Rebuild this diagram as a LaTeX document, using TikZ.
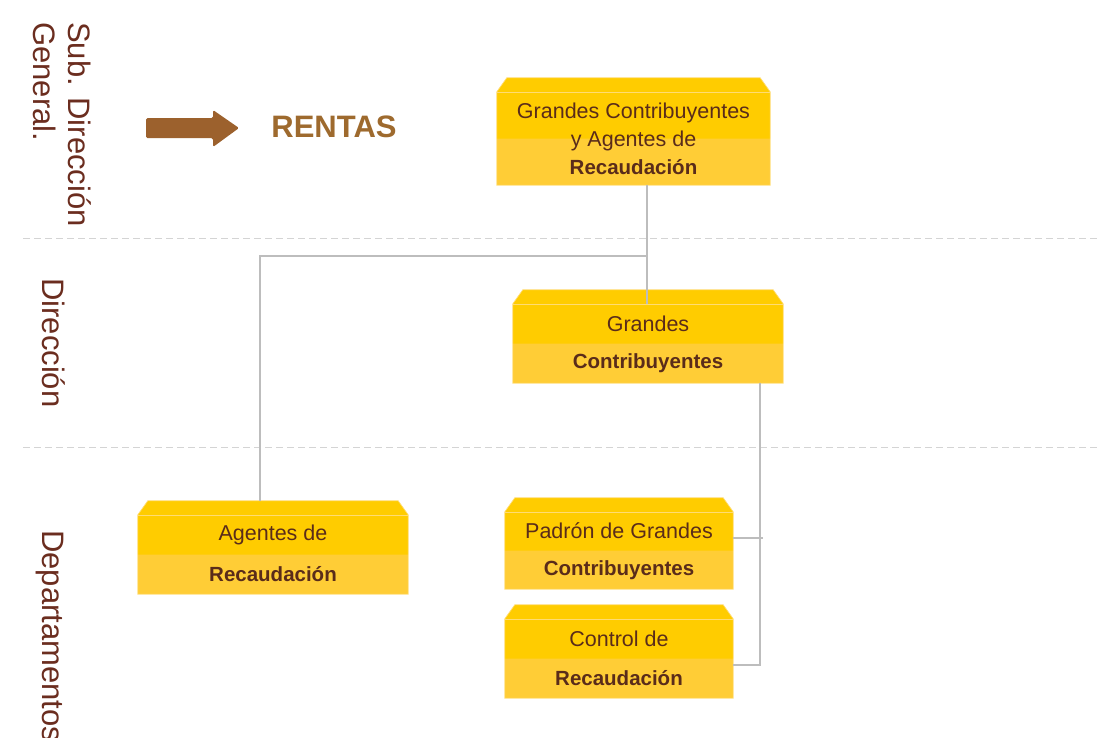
\documentclass[tikz,border=0pt]{standalone}
\usepackage{fontspec}
\setmainfont{Liberation Sans}
\usetikzlibrary{calc}
\definecolor{yelA}{HTML}{FFCC00}
\definecolor{yelB}{HTML}{FFCD36}
\definecolor{yelEdge}{HTML}{FFDC73}
\definecolor{lbl}{HTML}{6B2D1F}
\definecolor{btxt}{HTML}{5A2C1A}
\definecolor{arrowbrown}{HTML}{9C612D}
\definecolor{rentascol}{HTML}{9E6A2E}
\definecolor{conncol}{HTML}{BDBDBD}
\definecolor{dashcol}{HTML}{D4D4D4}
\newcommand\orgcap[1]{%
  \fill[yelA] (#1.west) -- (#1.north west) -- ++(10pt,14pt) -- ($(#1.north east)+(-10pt,14pt)$) -- (#1.north east) -- (#1.east) -- cycle;
  \draw[yelEdge, line width=0.7pt] (#1.south west) -- (#1.north west) -- ++(10pt,14pt) -- ($(#1.north east)+(-10pt,14pt)$) -- (#1.north east) -- (#1.south east) -- cycle;
  \draw[yelEdge, line width=0.5pt] (#1.north west) -- (#1.north east);
}
\begin{document}
\begin{tikzpicture}[x=1pt,y=-1pt,
  boxbody/.style={fill=yelB, inner sep=0pt},
  regtxt/.style={text=btxt, inner sep=0pt, font=\fontsize{21.5}{28}\selectfont, align=center},
  boldtxt/.style={text=btxt, inner sep=0pt, font=\fontsize{20.5}{28}\selectfont\bfseries},
  sidelbl/.style={text=lbl, inner sep=0pt, rotate=-90, anchor=base west, font=\fontsize{31}{36}\selectfont},
  conn/.style={draw=conncol, line width=1.5pt},
  sep/.style={draw=dashcol, line width=1pt, dash pattern=on 7pt off 4pt}]
\useasboundingbox (0,0) rectangle (1098,737);
\fill[white] (0,0) rectangle (1098,737);

% dashed separators
\coordinate (s1a) at (23,238); \coordinate (s1b) at (1098,238);
\coordinate (s2a) at (23,447); \coordinate (s2b) at (1098,447);
\draw[sep] (s1a) -- (s1b);
\draw[sep] (s2a) -- (s2b);

% side labels
\node[sidelbl] (lsub) at (68,22) {Sub. Dirección};
\node[sidelbl] (lgen) at (33,22) {General.};
\node[sidelbl] (ldir) at (42,278) {Dirección};
\node[sidelbl] (ldep) at (42,530) {Departamentos};

% arrow and RENTAS
\fill[arrowbrown, rounded corners=1.5pt] (146,118) -- (213,118) -- (213,110) -- (239,128) -- (213,147) -- (213,138) -- (146,138) -- cycle;
\node[text=rentascol, inner sep=0pt, font=\fontsize{31}{36}\selectfont\bfseries] (rentas) at (334,127) {RENTAS};

% boxes
\node[boxbody, minimum width=273pt, minimum height=93pt] (b1) at (633.5,138.5) {};
\orgcap{b1}
\node[regtxt] (b1t) at (633.5,139) {Grandes Contribuyentes\\y Agentes de\\\fontsize{20.5}{28}\selectfont\bfseries Recaudación};

\node[boxbody, minimum width=270pt, minimum height=79pt] (b2) at (648,343.5) {};
\orgcap{b2}
\node[regtxt] (b2a) at ($(b2.north)!0.5!(b2.center)$) {Grandes};
\node[boldtxt] (b2b) at ($(b2.south)!0.5!(b2.center)$) {Contribuyentes};

\node[boxbody, minimum width=270pt, minimum height=79pt] (ag) at (273,554.5) {};
\orgcap{ag}
\node[regtxt] (aga) at ($(ag.north)!0.5!(ag.center)$) {Agentes de};
\node[boldtxt] (agb) at ($(ag.south)!0.5!(ag.center)$) {Recaudación};

\node[boxbody, minimum width=228pt, minimum height=77pt] (pad) at (619,550.5) {};
\orgcap{pad}
\node[regtxt] (pada) at ($(pad.north)!0.5!(pad.center)$) {Padrón de Grandes};
\node[boldtxt] (padb) at ($(pad.south)!0.5!(pad.center)$) {Contribuyentes};

\node[boxbody, minimum width=228pt, minimum height=79pt] (ctl) at (619,658.5) {};
\orgcap{ctl}
\node[regtxt] (ctla) at ($(ctl.north)!0.5!(ctl.center)$) {Control de};
\node[boldtxt] (ctlb) at ($(ctl.south)!0.5!(ctl.center)$) {Recaudación};

% connectors
\coordinate (j1) at (647,256);
\coordinate (j2) at (260,256);
\coordinate (j3) at (760,665);
\coordinate (j4) at (763,538);
\coordinate (agtop) at ($(ag.north)+(0pt,14pt)$);
\draw[conn] (j1 |- b1.south) -- (j1) -- (j1 |- b2.north);
\draw[conn] (j1) -- (j2) -- (j2 |- agtop);
\draw[conn] (j3 |- b2.south) -- (j3) -- (j3 -| ctl.east);
\draw[conn] (j4 -| pad.east) -- (j4);
\end{tikzpicture}
\end{document}
